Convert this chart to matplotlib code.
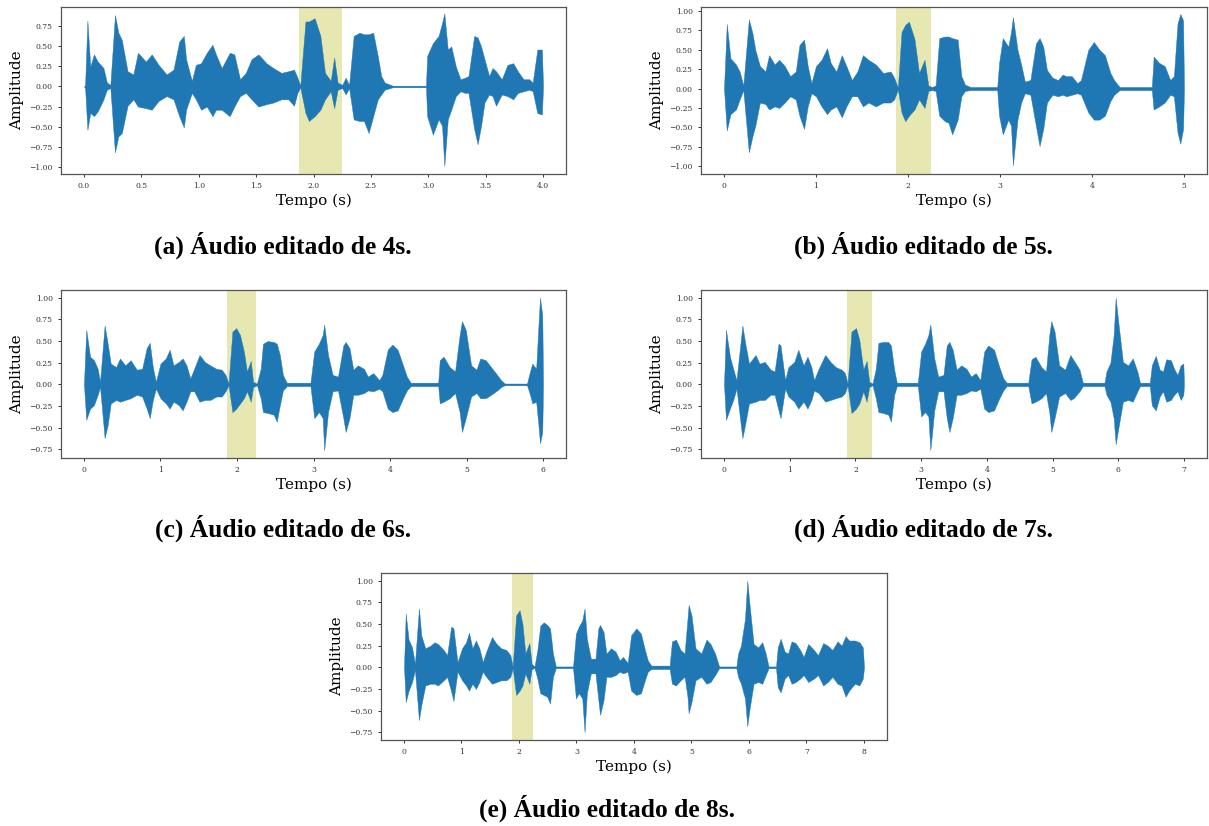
import matplotlib
matplotlib.use("Agg")
import matplotlib.pyplot as plt
import numpy as np

# envelope of each clip: (time s, upper peak, lower peak)
env_4s = [
    (0.00, 0.00, 0.00), (0.01, 0.02, -0.02), (0.03, 0.82, -0.54), (0.055, 0.25, -0.33),
    (0.087, 0.40, -0.37), (0.12, 0.31, -0.31), (0.17, 0.23, -0.16), (0.20, 0.05, -0.04),
    (0.23, 0.02, -0.02), (0.27, 0.89, -0.82), (0.30, 0.67, -0.62), (0.33, 0.58, -0.58),
    (0.38, 0.19, -0.24), (0.43, 0.15, -0.16), (0.47, 0.42, -0.25), (0.54, 0.31, -0.27),
    (0.59, 0.40, -0.29), (0.65, 0.27, -0.18), (0.72, 0.15, -0.12), (0.78, 0.21, -0.16),
    (0.83, 0.56, -0.37), (0.87, 0.63, -0.51), (0.89, 0.34, -0.29), (0.94, 0.07, -0.08),
    (0.975, 0.27, -0.16), (1.02, 0.29, -0.29), (1.07, 0.42, -0.25), (1.12, 0.52, -0.37),
    (1.15, 0.40, -0.29), (1.20, 0.23, -0.29), (1.27, 0.42, -0.37), (1.31, 0.40, -0.25),
    (1.36, 0.09, -0.12), (1.41, 0.17, -0.08), (1.46, 0.34, -0.16), (1.52, 0.40, -0.25),
    (1.59, 0.29, -0.22), (1.65, 0.23, -0.20), (1.72, 0.17, -0.16), (1.78, 0.19, -0.16),
    (1.83, 0.21, -0.24), (1.86, 0.11, -0.08), (1.885, 0.01, -0.01), (1.93, 0.81, -0.33),
    (1.96, 0.81, -0.43), (2.01, 0.85, -0.37), (2.06, 0.63, -0.29), (2.10, 0.17, -0.16),
    (2.15, 0.07, -0.06), (2.18, 0.36, -0.27), (2.21, 0.05, -0.04), (2.25, 0.02, -0.02),
    (2.28, 0.11, -0.10), (2.31, 0.02, -0.02), (2.35, 0.63, -0.41), (2.40, 0.67, -0.43),
    (2.44, 0.65, -0.43), (2.48, 0.65, -0.58), (2.52, 0.67, -0.37), (2.56, 0.38, -0.16),
    (2.59, 0.13, -0.10), (2.62, 0.05, -0.04), (2.69, 0.01, -0.01), (2.98, 0.01, -0.01),
    (2.99, 0.38, -0.37), (3.04, 0.54, -0.60), (3.09, 0.63, -0.41), (3.12, 0.79, -0.49),
    (3.14, 0.91, -0.99), (3.17, 0.46, -0.41), (3.20, 0.50, -0.29), (3.24, 0.25, -0.12),
    (3.28, 0.09, -0.06), (3.32, 0.11, -0.08), (3.35, 0.13, -0.08), (3.40, 0.63, -0.53),
    (3.43, 0.61, -0.72), (3.46, 0.50, -0.49), (3.49, 0.34, -0.20), (3.53, 0.13, -0.10),
    (3.56, 0.23, -0.12), (3.59, 0.19, -0.24), (3.64, 0.09, -0.10), (3.69, 0.27, -0.12),
    (3.74, 0.29, -0.16), (3.78, 0.19, -0.08), (3.83, 0.09, -0.06), (3.88, 0.09, -0.04),
    (3.91, 0.05, -0.06), (3.95, 0.46, -0.33), (3.99, 0.46, -0.35), (4.00, 0.00, 0.00),
]

env_5s = [
    (0.00, 0.00, 0.00), (0.03, 0.83, -0.54), (0.07, 0.39, -0.33), (0.13, 0.31, -0.27),
    (0.17, 0.22, -0.14), (0.21, 0.04, -0.02), (0.27, 0.89, -0.82), (0.31, 0.71, -0.61),
    (0.34, 0.50, -0.48), (0.39, 0.29, -0.18), (0.45, 0.22, -0.20), (0.49, 0.43, -0.27),
    (0.55, 0.31, -0.23), (0.60, 0.37, -0.25), (0.66, 0.29, -0.18), (0.72, 0.16, -0.10),
    (0.78, 0.22, -0.14), (0.82, 0.56, -0.35), (0.87, 0.63, -0.52), (0.91, 0.29, -0.23),
    (0.95, 0.07, -0.06), (1.00, 0.29, -0.10), (1.06, 0.37, -0.23), (1.12, 0.52, -0.33),
    (1.16, 0.33, -0.27), (1.22, 0.22, -0.23), (1.28, 0.43, -0.37), (1.33, 0.29, -0.23),
    (1.39, 0.11, -0.10), (1.45, 0.22, -0.10), (1.51, 0.43, -0.23), (1.57, 0.37, -0.18),
    (1.65, 0.31, -0.23), (1.73, 0.20, -0.18), (1.81, 0.22, -0.18), (1.85, 0.14, -0.14),
    (1.89, 0.01, -0.01), (1.93, 0.73, -0.31), (1.97, 0.82, -0.42), (2.01, 0.86, -0.35),
    (2.07, 0.64, -0.27), (2.12, 0.20, -0.14), (2.18, 0.37, -0.25), (2.22, 0.04, -0.03),
    (2.26, 0.02, -0.02), (2.30, 0.04, -0.03), (2.34, 0.65, -0.35), (2.40, 0.67, -0.42),
    (2.44, 0.67, -0.44), (2.48, 0.65, -0.59), (2.54, 0.63, -0.40), (2.58, 0.16, -0.10),
    (2.62, 0.05, -0.03), (2.68, 0.02, -0.02), (2.97, 0.02, -0.02), (2.99, 0.33, -0.35),
    (3.03, 0.65, -0.59), (3.09, 0.54, -0.40), (3.12, 0.73, -0.48), (3.14, 0.92, -0.99),
    (3.19, 0.50, -0.40), (3.23, 0.31, -0.18), (3.27, 0.09, -0.06), (3.33, 0.11, -0.08),
    (3.39, 0.58, -0.48), (3.43, 0.65, -0.74), (3.47, 0.54, -0.52), (3.51, 0.24, -0.18),
    (3.57, 0.14, -0.08), (3.63, 0.11, -0.10), (3.68, 0.18, -0.08), (3.72, 0.16, -0.10),
    (3.78, 0.16, -0.08), (3.84, 0.07, -0.06), (3.88, 0.11, -0.08), (3.96, 0.50, -0.31),
    (4.02, 0.60, -0.40), (4.08, 0.50, -0.40), (4.14, 0.43, -0.35), (4.20, 0.20, -0.16),
    (4.24, 0.11, -0.08), (4.30, 0.02, -0.02), (4.65, 0.02, -0.02), (4.67, 0.41, -0.27),
    (4.73, 0.33, -0.23), (4.79, 0.29, -0.18), (4.85, 0.11, -0.08), (4.89, 0.16, -0.10),
    (4.93, 0.84, -0.57), (4.96, 0.96, -0.71), (4.99, 0.88, -0.52), (5.00, 0.00, 0.00),
]

env_6s = [
    (0.00, 0.00, 0.00), (0.03, 0.63, -0.41), (0.08, 0.32, -0.28), (0.13, 0.28, -0.24),
    (0.18, 0.18, -0.12), (0.21, 0.03, -0.03), (0.27, 0.68, -0.62), (0.31, 0.47, -0.47),
    (0.35, 0.24, -0.22), (0.42, 0.20, -0.18), (0.47, 0.30, -0.20), (0.54, 0.22, -0.18),
    (0.61, 0.28, -0.16), (0.69, 0.17, -0.12), (0.76, 0.18, -0.14), (0.82, 0.42, -0.28),
    (0.86, 0.48, -0.39), (0.90, 0.20, -0.18), (0.94, 0.03, -0.05), (1.00, 0.24, -0.16),
    (1.07, 0.30, -0.22), (1.12, 0.40, -0.28), (1.17, 0.22, -0.20), (1.24, 0.26, -0.24),
    (1.29, 0.30, -0.30), (1.34, 0.22, -0.20), (1.39, 0.07, -0.08), (1.44, 0.18, -0.08),
    (1.51, 0.34, -0.20), (1.58, 0.26, -0.18), (1.65, 0.22, -0.18), (1.73, 0.18, -0.14),
    (1.80, 0.17, -0.14), (1.85, 0.11, -0.08), (1.89, 0.01, -0.01), (1.94, 0.61, -0.32),
    (1.99, 0.65, -0.28), (2.04, 0.57, -0.22), (2.09, 0.38, -0.16), (2.13, 0.15, -0.08),
    (2.18, 0.27, -0.20), (2.21, 0.03, -0.03), (2.26, 0.01, -0.01), (2.31, 0.18, -0.16),
    (2.34, 0.47, -0.32), (2.40, 0.50, -0.33), (2.48, 0.49, -0.35), (2.52, 0.47, -0.43),
    (2.56, 0.34, -0.24), (2.60, 0.11, -0.07), (2.65, 0.02, -0.02), (2.96, 0.02, -0.02),
    (3.01, 0.38, -0.39), (3.07, 0.47, -0.32), (3.12, 0.57, -0.39), (3.14, 0.69, -0.76),
    (3.19, 0.34, -0.32), (3.25, 0.11, -0.08), (3.32, 0.09, -0.07), (3.39, 0.45, -0.39),
    (3.42, 0.49, -0.55), (3.47, 0.42, -0.39), (3.52, 0.17, -0.12), (3.58, 0.22, -0.12),
    (3.66, 0.18, -0.10), (3.71, 0.09, -0.07), (3.78, 0.13, -0.08), (3.86, 0.05, -0.05),
    (3.90, 0.11, -0.08), (3.97, 0.40, -0.28), (4.03, 0.46, -0.32), (4.10, 0.40, -0.30),
    (4.17, 0.22, -0.16), (4.22, 0.09, -0.07), (4.27, 0.02, -0.02), (4.63, 0.02, -0.02),
    (4.65, 0.28, -0.22), (4.70, 0.32, -0.20), (4.78, 0.20, -0.16), (4.85, 0.15, -0.10),
    (4.91, 0.57, -0.32), (4.94, 0.73, -0.55), (4.99, 0.63, -0.39), (5.06, 0.22, -0.14),
    (5.13, 0.17, -0.10), (5.18, 0.30, -0.16), (5.25, 0.28, -0.16), (5.32, 0.20, -0.12),
    (5.40, 0.11, -0.07), (5.45, 0.05, -0.03), (5.50, 0.01, -0.01), (5.79, 0.01, -0.01),
    (5.83, 0.15, -0.12), (5.86, 0.24, -0.22), (5.91, 0.18, -0.20), (5.94, 0.68, -0.47),
    (5.96, 1.00, -0.68), (5.99, 0.80, -0.55), (6.00, 0.00, 0.00),
]

env_7s = [
    (0.00, 0.00, 0.00), (0.03, 0.63, -0.41), (0.09, 0.32, -0.28), (0.14, 0.18, -0.18),
    (0.19, 0.05, -0.05), (0.28, 0.68, -0.62), (0.32, 0.49, -0.47), (0.38, 0.24, -0.22),
    (0.48, 0.34, -0.20), (0.54, 0.24, -0.18), (0.62, 0.26, -0.18), (0.71, 0.17, -0.12),
    (0.77, 0.15, -0.12), (0.83, 0.47, -0.30), (0.86, 0.45, -0.39), (0.93, 0.05, -0.05),
    (0.98, 0.20, -0.14), (1.07, 0.26, -0.20), (1.13, 0.40, -0.28), (1.21, 0.22, -0.20),
    (1.27, 0.32, -0.28), (1.33, 0.20, -0.18), (1.37, 0.05, -0.07), (1.44, 0.18, -0.10),
    (1.54, 0.34, -0.20), (1.62, 0.26, -0.18), (1.70, 0.20, -0.16), (1.79, 0.17, -0.14),
    (1.84, 0.13, -0.10), (1.88, 0.01, -0.01), (1.94, 0.61, -0.33), (2.01, 0.65, -0.28),
    (2.06, 0.51, -0.22), (2.12, 0.17, -0.08), (2.17, 0.27, -0.20), (2.21, 0.03, -0.03),
    (2.26, 0.01, -0.01), (2.31, 0.18, -0.16), (2.35, 0.48, -0.32), (2.42, 0.49, -0.33),
    (2.50, 0.49, -0.35), (2.54, 0.45, -0.43), (2.59, 0.17, -0.12), (2.63, 0.02, -0.02),
    (2.95, 0.02, -0.02), (3.00, 0.38, -0.37), (3.06, 0.47, -0.32), (3.11, 0.57, -0.37),
    (3.14, 0.69, -0.76), (3.20, 0.30, -0.30), (3.26, 0.09, -0.08), (3.34, 0.11, -0.08),
    (3.39, 0.45, -0.39), (3.43, 0.49, -0.55), (3.48, 0.40, -0.39), (3.54, 0.17, -0.12),
    (3.61, 0.22, -0.12), (3.69, 0.18, -0.10), (3.76, 0.09, -0.07), (3.83, 0.13, -0.08),
    (3.90, 0.05, -0.05), (3.96, 0.38, -0.28), (4.02, 0.45, -0.32), (4.11, 0.40, -0.30),
    (4.19, 0.20, -0.16), (4.25, 0.07, -0.07), (4.30, 0.02, -0.02), (4.63, 0.02, -0.02),
    (4.68, 0.29, -0.22), (4.74, 0.32, -0.20), (4.83, 0.20, -0.16), (4.90, 0.15, -0.10),
    (4.95, 0.57, -0.32), (4.98, 0.73, -0.55), (5.03, 0.61, -0.39), (5.10, 0.22, -0.14),
    (5.19, 0.17, -0.10), (5.27, 0.34, -0.18), (5.32, 0.28, -0.16), (5.41, 0.17, -0.08),
    (5.46, 0.02, -0.02), (5.79, 0.02, -0.02), (5.82, 0.15, -0.12), (5.88, 0.25, -0.20),
    (5.93, 0.57, -0.39), (5.96, 1.00, -0.69), (6.00, 0.72, -0.51), (6.07, 0.26, -0.20),
    (6.15, 0.22, -0.18), (6.22, 0.30, -0.20), (6.29, 0.15, -0.08), (6.33, 0.02, -0.02),
    (6.48, 0.02, -0.02), (6.51, 0.22, -0.24), (6.57, 0.33, -0.30), (6.63, 0.17, -0.14),
    (6.68, 0.15, -0.08), (6.73, 0.29, -0.20), (6.80, 0.28, -0.18), (6.85, 0.18, -0.12),
    (6.90, 0.11, -0.08), (6.95, 0.22, -0.18), (6.99, 0.24, -0.12), (7.00, 0.00, 0.00),
]

env_8s = [
    (0.00, 0.00, 0.00), (0.03, 0.62, -0.40), (0.08, 0.32, -0.27), (0.14, 0.23, -0.17),
    (0.19, 0.04, -0.03), (0.26, 0.68, -0.61), (0.30, 0.37, -0.44), (0.37, 0.22, -0.21),
    (0.46, 0.25, -0.19), (0.53, 0.29, -0.19), (0.59, 0.27, -0.21), (0.69, 0.20, -0.15),
    (0.75, 0.14, -0.11), (0.82, 0.47, -0.28), (0.86, 0.45, -0.39), (0.93, 0.06, -0.05),
    (1.01, 0.22, -0.15), (1.08, 0.29, -0.21), (1.13, 0.40, -0.27), (1.19, 0.22, -0.19),
    (1.25, 0.31, -0.25), (1.31, 0.22, -0.17), (1.37, 0.06, -0.05), (1.43, 0.18, -0.11),
    (1.53, 0.35, -0.19), (1.61, 0.27, -0.17), (1.69, 0.22, -0.15), (1.78, 0.20, -0.15),
    (1.85, 0.14, -0.11), (1.89, 0.01, -0.01), (1.95, 0.60, -0.32), (2.01, 0.66, -0.27),
    (2.06, 0.50, -0.21), (2.11, 0.16, -0.07), (2.18, 0.28, -0.19), (2.22, 0.04, -0.02),
    (2.27, 0.01, -0.01), (2.32, 0.20, -0.13), (2.37, 0.48, -0.30), (2.43, 0.52, -0.32),
    (2.49, 0.49, -0.34), (2.54, 0.45, -0.42), (2.59, 0.16, -0.11), (2.64, 0.01, -0.01),
    (2.94, 0.01, -0.01), (2.99, 0.39, -0.36), (3.04, 0.47, -0.30), (3.10, 0.54, -0.36),
    (3.14, 0.68, -0.75), (3.18, 0.33, -0.30), (3.25, 0.10, -0.07), (3.33, 0.10, -0.07),
    (3.38, 0.45, -0.38), (3.41, 0.49, -0.55), (3.47, 0.41, -0.38), (3.52, 0.16, -0.11),
    (3.60, 0.22, -0.11), (3.68, 0.18, -0.09), (3.75, 0.08, -0.05), (3.81, 0.12, -0.07),
    (3.89, 0.05, -0.05), (3.95, 0.37, -0.27), (4.04, 0.45, -0.32), (4.12, 0.39, -0.30),
    (4.19, 0.20, -0.15), (4.24, 0.08, -0.05), (4.30, 0.02, -0.02), (4.62, 0.02, -0.02),
    (4.66, 0.30, -0.19), (4.73, 0.32, -0.21), (4.81, 0.20, -0.15), (4.88, 0.16, -0.11),
    (4.93, 0.56, -0.34), (4.95, 0.72, -0.53), (5.00, 0.60, -0.40), (5.07, 0.22, -0.15),
    (5.17, 0.16, -0.11), (5.26, 0.32, -0.19), (5.33, 0.27, -0.17), (5.41, 0.16, -0.09),
    (5.48, 0.01, -0.01), (5.78, 0.01, -0.01), (5.81, 0.16, -0.11), (5.86, 0.25, -0.19),
    (5.93, 0.56, -0.36), (5.97, 1.00, -0.68), (6.01, 0.72, -0.48), (6.08, 0.27, -0.19),
    (6.16, 0.23, -0.17), (6.23, 0.29, -0.19), (6.29, 0.16, -0.09), (6.34, 0.01, -0.01),
    (6.47, 0.01, -0.01), (6.50, 0.23, -0.23), (6.55, 0.33, -0.29), (6.62, 0.18, -0.13),
    (6.68, 0.16, -0.09), (6.74, 0.30, -0.19), (6.81, 0.28, -0.17), (6.89, 0.20, -0.13),
    (6.95, 0.12, -0.09), (7.03, 0.27, -0.17), (7.13, 0.20, -0.13), (7.20, 0.14, -0.09),
    (7.29, 0.28, -0.21), (7.37, 0.25, -0.17), (7.45, 0.20, -0.11), (7.54, 0.30, -0.19),
    (7.61, 0.25, -0.21), (7.68, 0.36, -0.34), (7.74, 0.31, -0.27), (7.84, 0.31, -0.19),
    (7.92, 0.29, -0.21), (7.98, 0.23, -0.13), (8.00, 0.00, 0.00),
]

highlight = (1.87, 2.25)  # trecho destacado (s)

captions = [
    "(a) Áudio editado de 4s.",
    "(b) Áudio editado de 5s.",
    "(c) Áudio editado de 6s.",
    "(d) Áudio editado de 7s.",
    "(e) Áudio editado de 8s.",
]
envelopes = [env_4s, env_5s, env_6s, env_7s, env_8s]
ylims = [(-1.09, 0.99), (-1.10, 1.05), (-0.85, 1.09), (-0.85, 1.09), (-0.84, 1.09)]

# axes boxes in pixels (left, top, right, bottom) and caption centres
boxes = [(61, 7, 566, 174), (701, 7, 1207, 174), (61, 290, 566, 458),
         (701, 290, 1207, 458), (381, 573, 887, 740)]
cap_xy = [(283, 245), (923, 245), (283, 528), (923, 528), (607, 808)]

W, H = 1209, 826
plt.rcParams["font.family"] = "DejaVu Serif"
fig = plt.figure(figsize=(W / 100, H / 100), dpi=100)

for env, yl, box, cap, cxy in zip(envelopes, ylims, boxes, captions, cap_xy):
    l, t, r, b = box
    ax = fig.add_axes([l / W, 1 - b / H, (r - l) / W, (b - t) / H])
    tt, hi, lo = np.array(env).T
    ax.axvspan(*highlight, color="tab:olive", alpha=0.35, lw=0, zorder=0)
    ax.fill_between(tt, lo, hi, color="#1f77b4", lw=0.3, zorder=2)
    ax.set_ylim(*yl)
    ax.set_xlabel("Tempo (s)", fontsize=11, labelpad=2)
    ax.set_ylabel("Amplitude", fontsize=11, labelpad=4)
    ax.tick_params(labelsize=5.5, length=2.5, width=0.7, colors="#333333")
    for s in ax.spines.values():
        s.set_color("#555555")
        s.set_linewidth(0.9)
    fig.text(cxy[0] / W, 1 - cxy[1] / H, cap, ha="center", va="center",
             fontsize=18.4, fontweight="bold", family="Liberation Serif")

fig.savefig("out.png", dpi=100)
